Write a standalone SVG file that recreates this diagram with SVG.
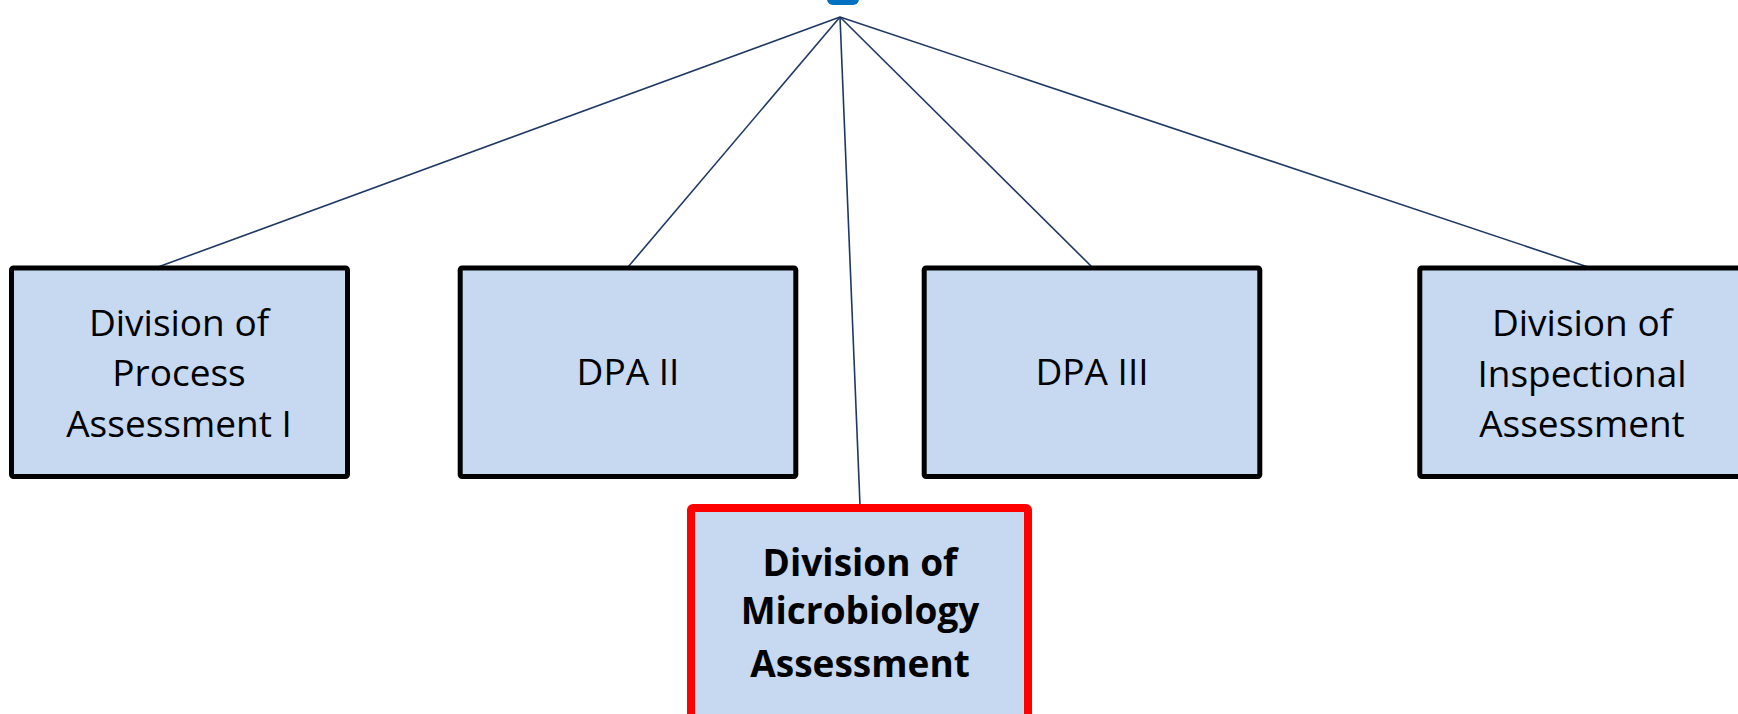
<svg xmlns="http://www.w3.org/2000/svg" width="1738" height="714" viewBox="0 0 1738 714">
<style>
.box{fill:#C6D9F1;stroke:#000;stroke-width:5}
.hl{fill:#C6D9F1;stroke:#FF0000;stroke-width:8}
.t{font-family:"Open Sans","Liberation Sans",sans-serif;font-size:37px;fill:#000;text-anchor:middle}
.b{font-weight:bold}
.c{stroke:#1F3864;stroke-width:1.6;fill:none}
</style>
<rect width="1738" height="714" fill="#fff"/>
<g id="top"><rect x="827" y="-12" width="32" height="17" rx="6" fill="#0070C0"/></g>
<g id="connectors">
<line class="c" x1="840" y1="17" x2="158" y2="267"/>
<line class="c" x1="840" y1="17" x2="628" y2="267"/>
<line class="c" x1="840" y1="17" x2="860" y2="505"/>
<line class="c" x1="840" y1="17" x2="1092" y2="267"/>
<line class="c" x1="840" y1="17" x2="1588" y2="267"/>
</g>
<g id="dpa1"><rect class="box" x="11.5" y="268" width="336" height="208.5" rx="2"/>
<text class="t" x="179" y="336">Division of</text><text class="t" x="179" y="386">Process</text><text class="t" x="179" y="437">Assessment I</text></g>
<g id="dpa2"><rect class="box" x="460.2" y="268" width="335.6" height="208.5" rx="2"/>
<text class="t" x="628" y="385">DPA II</text></g>
<g id="dpa3"><rect class="box" x="924.2" y="268" width="335.6" height="208.5" rx="2"/>
<text class="t" x="1092" y="385">DPA III</text></g>
<g id="dia"><rect class="box" x="1419.8" y="268" width="335.6" height="208.5" rx="2"/>
<text class="t" x="1582" y="336">Division of</text><text class="t" x="1582" y="387">Inspectional</text><text class="t" x="1582" y="437">Assessment</text></g>
<g id="dma"><rect class="hl" x="691" y="508" width="337" height="230" rx="2"/>
<text class="t b" x="860" y="576">Division of</text><text class="t b" x="860" y="624">Microbiology</text><text class="t b" x="860" y="677">Assessment</text></g>
</svg>
